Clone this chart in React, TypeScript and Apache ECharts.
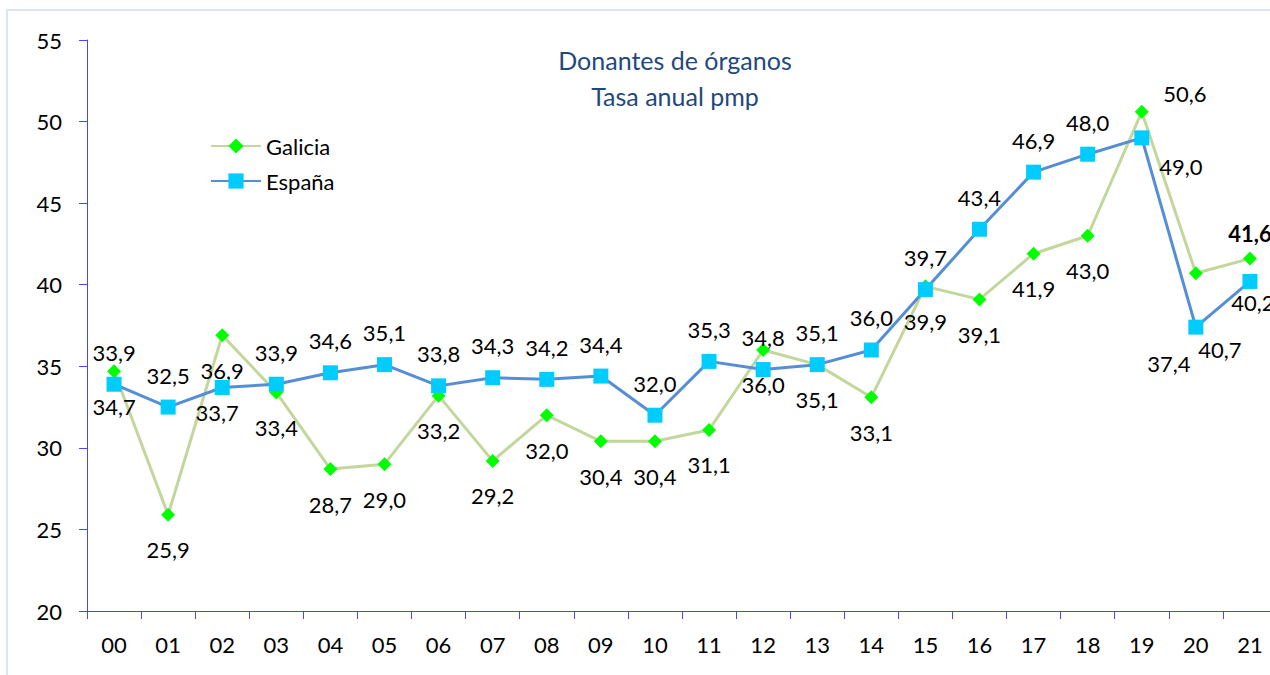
import React, { useEffect, useRef } from "react";
import * as echarts from "echarts";

const categories = ["00", "01", "02", "03", "04", "05", "06", "07", "08", "09", "10", "11", "12", "13", "14", "15", "16", "17", "18", "19", "20", "21"];
const galicia = [34.7, 25.9, 36.9, 33.4, 28.7, 29.0, 33.2, 29.2, 32.0, 30.4, 30.4, 31.1, 36.0, 35.1, 33.1, 39.9, 39.1, 41.9, 43.0, 50.6, 40.7, 41.6];
const espana = [33.9, 32.5, 33.7, 33.9, 34.6, 35.1, 33.8, 34.3, 34.2, 34.4, 32.0, 35.3, 34.8, 35.1, 36.0, 39.7, 43.4, 46.9, 48.0, 49.0, 37.4, 40.2];
const yMin = 20;
const yMax = 55;
const yStep = 5;

// label placement (style only)
const galiciaLabelOffsetDefault = [0, 35];
const espanaLabelOffsetDefault = [0, -32];
const galiciaLabelOffsets: Record<number, number[]> = { 19: [43, -18], 20: [24, 76], 21: [0, -25] };
const espanaLabelOffsets: Record<number, number[]> = { 2: [-5, 25], 19: [39, 29], 20: [-27, 36], 21: [3, 21] };
const boldGalicia: Record<number, boolean> = { 21: true };

const FONT = "Lato";
const FS = 22;
const fmt = (v: number) => v.toFixed(1).replace(".", ",");

export default function App() {
  const ref = useRef<HTMLDivElement>(null);
  useEffect(() => {
    if (!ref.current) return;
    const chart = echarts.init(ref.current, undefined, { renderer: "svg" });
    const galData = galicia.map((v, i) => ({
      value: v,
      label: {
        offset: galiciaLabelOffsets[i] || galiciaLabelOffsetDefault,
        fontWeight: boldGalicia[i] ? "bold" : "normal",
      },
    }));
    const espData = espana.map((v, i) => ({
      value: v,
      label: { offset: espanaLabelOffsets[i] || espanaLabelOffsetDefault },
    }));
    const axisColor = "#4646ff";
    chart.setOption({
      animation: false,
      backgroundColor: "#ffffff",
      textStyle: { fontFamily: FONT },
      title: {
        text: "Donantes de órganos\nTasa anual pmp",
        left: 675,
        top: 42,
        padding: 0,
        textAlign: "center",
        textStyle: { fontFamily: FONT, fontSize: 25, fontWeight: "normal", color: "#1F497D", lineHeight: 36 },
      },
      legend: {
        orient: "vertical",
        left: 210,
        top: 135,
        padding: 0,
        itemWidth: 50,
        itemHeight: 19,
        itemGap: 13,
        textStyle: { fontFamily: FONT, fontSize: FS, color: "#000" },
        data: ["Galicia", "España"],
      },
      graphic: [
        {
          type: "rect",
          shape: { x: 7, y: 10, width: 1300, height: 700 },
          style: { fill: "none", stroke: "#DCE6F2", lineWidth: 2 },
          silent: true,
          z: -1,
        },
      ],
      grid: { left: 87, top: 40, width: 1190, height: 571, containLabel: false },
      xAxis: {
        type: "category",
        data: categories,
        boundaryGap: true,
        axisLine: { lineStyle: { color: axisColor, width: 1 } },
        axisTick: { show: true, length: 8, inside: false, lineStyle: { color: axisColor } },
        axisLabel: { fontFamily: FONT, fontSize: FS, color: "#000", margin: 22 },
        splitLine: { show: false },
      },
      yAxis: {
        type: "value",
        min: yMin,
        max: yMax,
        interval: yStep,
        axisLine: { show: true, lineStyle: { color: axisColor, width: 1 } },
        axisTick: { show: true, length: 8, inside: false, lineStyle: { color: axisColor } },
        axisLabel: { fontFamily: FONT, fontSize: FS, color: "#000", margin: 25 },
        splitLine: { show: false },
      },
      series: [
        {
          name: "Galicia",
          type: "line",
          data: galData,
          symbol: "diamond",
          symbolSize: 14,
          lineStyle: { color: "#C3D69B", width: 3 },
          itemStyle: { color: "#00FF00" },
          label: {
            show: true,
            position: "inside",
            formatter: (p: any) => fmt(p.value),
            fontFamily: FONT,
            fontSize: FS,
            color: "#000",
          },
          z: 2,
        },
        {
          name: "España",
          type: "line",
          data: espData,
          symbol: "rect",
          symbolSize: 15,
          lineStyle: { color: "#558ED5", width: 3 },
          itemStyle: { color: "#00CCFF" },
          label: {
            show: true,
            position: "inside",
            formatter: (p: any) => fmt(p.value),
            fontFamily: FONT,
            fontSize: FS,
            color: "#000",
          },
          z: 3,
        },
      ],
    });
    return () => chart.dispose();
  }, []);
  return (
    <div style={{ position: "fixed", left: 0, top: 0, width: 1270, height: 675, overflow: "hidden", background: "#fff" }}>
      <div ref={ref} style={{ width: 1300, height: 675 }} />
    </div>
  );
}
